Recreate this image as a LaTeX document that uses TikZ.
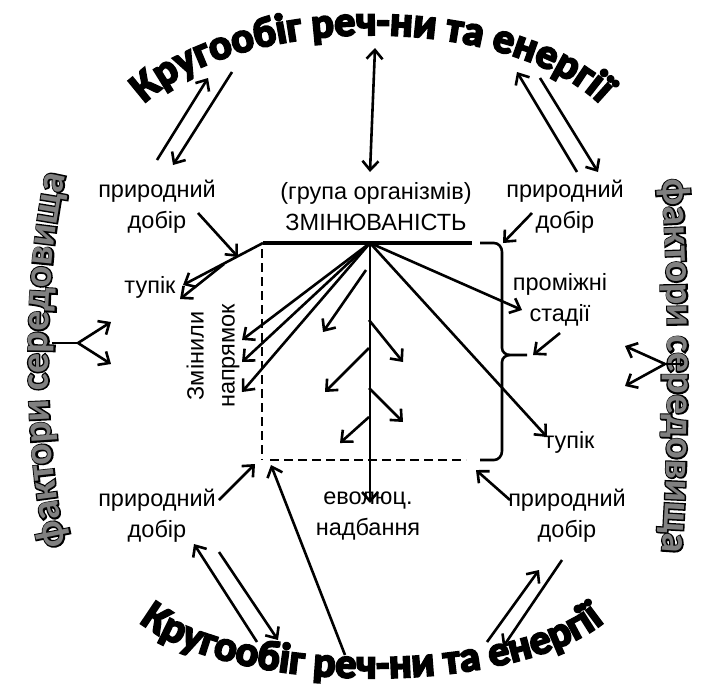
\documentclass[tikz,border=0pt]{standalone}
\usepackage{fontspec}
\setmainfont{Liberation Sans}
\newfontfamily\arcfont{Carlito}[BoldFeatures={FakeBold=5}]
\newfontfamily\sidefont{Carlito}
\newfontfamily\sideout{Carlito}[BoldFeatures={FakeBold=7}]
\usetikzlibrary{arrows.meta,decorations.text}

\tikzset{
  lbl/.style={align=center, inner sep=0pt, font=\fontsize{23.5}{31}\selectfont},
  ln/.style={line width=2.6pt},
  arr/.style={ln, -{Straight Barb[length=9pt,width=16pt]}},
  dbl/.style={ln, {Straight Barb[length=9pt,width=16pt]}-{Straight Barb[length=9pt,width=16pt]}},
  dsh/.style={ln, dash pattern=on 9pt off 5pt},
  arctext/.style={decorate, decoration={text along path, text align=center,
      text={|\arcfont\bfseries\fontsize{42}{42}\selectfont|Кругообіг реч-ни та енергії}}},
  sideback/.style={decorate, decoration={text along path, text align=center,
      text={|\sideout\bfseries\fontsize{40}{40}\selectfont|фактори середовища}}},
  sidefront/.style={decorate, decoration={text along path, text align=center,
      text={|\color{gray}\sidefont\bfseries\fontsize{40}{40}\selectfont|фактори середовища}}},
}

\begin{document}
\begin{tikzpicture}[x=1pt, y=1pt]
  \useasboundingbox (0,0) rectangle (709,-689);

  % arc captions
  \path[arctext] (372,-160) ++(170:255 and 125) arc[start angle=170, end angle=10, x radius=255, y radius=125];
  \path[arctext] (372,-583) ++(190:255 and 95) arc[start angle=190, end angle=350, x radius=255, y radius=95];
  \path[sideback] (108,-360) ++(240:60 and 260) arc[start angle=240, end angle=120, x radius=60, y radius=260];
  \path[sidefront] (108,-360) ++(240:60 and 260) arc[start angle=240, end angle=120, x radius=60, y radius=260];
  \path[sideback] (648,-366) ++(60:20 and 260) arc[start angle=60, end angle=-60, x radius=20, y radius=260];
  \path[sidefront] (648,-366) ++(60:20 and 260) arc[start angle=60, end angle=-60, x radius=20, y radius=260];

  % labels
  \node[lbl] (selTL) at (157,-207) {природний\\добір};
  \node[lbl] (grp) at (376,-207) {(група організмів)\\ЗМІНЮВАНІСТЬ};
  \node[lbl] (selTR) at (565,-207) {природний\\добір};
  \node[lbl] (deadL) at (150,-287) {тупік};
  \node[lbl] (stages) at (560,-300) {проміжні\\стадії};
  \node[lbl, rotate=90] (turned) at (213,-356) {Змінили\\напрямок};
  \node[lbl] (deadR) at (569,-442) {тупік};
  \node[lbl] (selBL) at (157,-516) {природний\\добір};
  \node[lbl] (gain) at (368,-516) {еволюц.\\надбання};
  \node[lbl] (selBR) at (567,-516) {природний\\добір};

  % box and brace
  \coordinate (apex) at (370,-243);
  \coordinate (boxTL) at (263,-243);
  \coordinate (boxTR) at (472,-243);
  \coordinate (boxBL) at (262,-460);
  \coordinate (boxBR) at (466,-460);
  \coordinate (braceTip) at (527,-355);
  \draw[ln, line width=3.2pt] (boxTL) -- (boxTR);
  \draw[dsh] (262,-249) -- (boxBL);
  \draw[dsh] (270,-460) -- (boxBR);
  \draw[ln] (480,-243) -- (494,-243) to[out=0,in=90] (502,-252) -- (502,-348)
    to[out=-90,in=180] (510,-355) -- (braceTip);
  \draw[ln] (510,-355) to[out=180,in=90] (502,-362) -- (502,-451)
    to[out=-90,in=0] (494,-460) -- (480,-460);

  % cycle arrows
  \coordinate (cycT) at (375,-48);
  \coordinate (grpT) at (370,-172);
  \draw[dbl] (grpT) -- (cycT);
  \coordinate (a1) at (157,-160); \coordinate (a2) at (208,-78);
  \coordinate (b1) at (232,-72);  \coordinate (b2) at (173,-165);
  \coordinate (c1) at (577,-172); \coordinate (c2) at (517,-72);
  \coordinate (d1) at (540,-78);  \coordinate (d2) at (598,-172);
  \coordinate (e1) at (257,-642); \coordinate (e2) at (194,-544);
  \coordinate (f1) at (219,-552); \coordinate (f2) at (278,-640);
  \coordinate (g1) at (487,-642); \coordinate (g2) at (539,-570);
  \coordinate (h1) at (562,-560); \coordinate (h2) at (503,-647);
  \foreach \p in {a,b,c,d,e,f,g,h}
    \draw[arr] (\p1) -- (\p2);

  % selection arrows
  \coordinate (joint) at (238,-257);
  \draw[arr] (198,-213) -- (joint);
  \draw[arr] (532,-213) -- (503,-243);
  \draw[arr] (560,-333) -- (533,-355);
  \draw[arr] (219,-500) -- (255,-464);
  \draw[arr] (510,-500) -- (476,-470);
  \draw[arr] (345,-655) -- (271,-465);

  % dead ends
  \coordinate (split) at (224,-264);
  \draw[arr] (boxTL) -- (183,-285);
  \draw[arr] (split) -- (180,-299);

  % fan from the group
  \draw[arr] (apex) -- (370,-503);
  \foreach \y in {340,362,392}
    \draw[arr] (apex) -- (242,-\y);
  \draw[arr] (apex) -- (522,-310);
  \draw[arr] (apex) -- (547,-437);
  \draw[arr] (366,-270) -- (323,-332);
  \draw[arr] (369,-320) -- (403,-362);
  \draw[arr] (369,-348) -- (325,-392);
  \draw[arr] (369,-388) -- (403,-422);
  \draw[arr] (369,-417) -- (340,-443);

  % environment forks
  \coordinate (forkL) at (78,-343);
  \draw[ln] (52,-343) -- (forkL);
  \draw[arr] (forkL) -- (111,-322);
  \draw[arr] (forkL) -- (111,-364);
  \coordinate (forkR) at (665,-364);
  \draw[ln] (684,-364) -- (forkR);
  \draw[arr] (forkR) -- (625,-346);
  \draw[arr] (forkR) -- (625,-386);
\end{tikzpicture}
\end{document}
